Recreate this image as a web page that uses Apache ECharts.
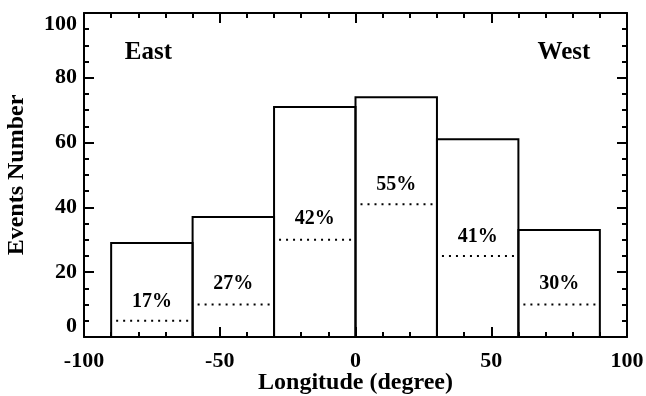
<!DOCTYPE html>
<html>
<head>
<meta charset="utf-8">
<script src="https://cdn.jsdelivr.net/npm/echarts@6/dist/echarts.min.js"></script>
<style>
  html, body { margin: 0; padding: 0; background: #fff; }
  #chart { width: 646px; height: 396px; }
</style>
</head>
<body>
<div id="chart"></div>
<script>
// histogram bins (longitude, degree)
const binStart = [-90, -60, -30, 0, 30, 60];
const binEnd = [-60, -30, 0, 30, 60, 90];
const counts = [29, 37, 71, 74, 61, 33];
// dotted level inside each bin
const subCounts = [5, 10, 30, 41, 25, 10];
const percentLabels = ['17%', '27%', '42%', '55%', '41%', '30%'];
const labelLevels = [11, 16.5, 36.5, 47, 31, 16.5];
const xTicks = [-100, -50, 0, 50, 100];
const yTicks = [0, 20, 40, 60, 80, 100];

const font = 'Liberation Serif';
const chart = echarts.init(document.getElementById('chart'));

const binData = binStart.map((s, i) => [s, binEnd[i], counts[i], subCounts[i], percentLabels[i], labelLevels[i]]);

const axisLine = { show: true, onZero: false, lineStyle: { color: '#000', width: 2 } };
const axisTick = { show: true, inside: true, length: 10, lineStyle: { color: '#000', width: 2 } };
const minor = n => ({ show: true, splitNumber: n, length: 5, lineStyle: { color: '#000', width: 2 } });

chart.setOption({
  animation: false,
  grid: { left: 84, right: 19, top: 13, bottom: 59, containLabel: false, outerBoundsMode: 'none' },
  xAxis: [
    {
      type: 'value', min: -100, max: 100, interval: 50, position: 'bottom',
      axisLine: axisLine, axisTick: axisTick, minorTick: minor(5), splitLine: { show: false },
      axisLabel: { color: '#000', fontFamily: font, fontWeight: 'bold', fontSize: 22, margin: 13,
        formatter: v => xTicks.includes(v) ? String(v) : '' },
      name: 'Longitude (degree)', nameLocation: 'middle', nameGap: 34, nameMoveOverlap: false,
      nameTextStyle: { color: '#000', fontFamily: font, fontWeight: 'bold', fontSize: 24 }
    },
    {
      type: 'value', min: -100, max: 100, interval: 50, position: 'top',
      axisLine: axisLine, axisTick: axisTick, minorTick: minor(5), splitLine: { show: false },
      axisLabel: { show: false }
    }
  ],
  yAxis: [
    {
      type: 'value', min: 0, max: 100, interval: 20, position: 'left',
      axisLine: axisLine, axisTick: axisTick, minorTick: minor(4), splitLine: { show: false },
      axisLabel: { color: '#000', fontFamily: font, fontWeight: 'bold', fontSize: 22, margin: 7,
        formatter: v => yTicks.includes(v) ? String(v) : '',
        verticalAlignMinLabel: 'bottom', verticalAlignMaxLabel: 'top' },
      name: 'Events Number', nameLocation: 'middle', nameGap: 55, nameMoveOverlap: false,
      nameTextStyle: { color: '#000', fontFamily: font, fontWeight: 'bold', fontSize: 24 }
    },
    {
      type: 'value', min: 0, max: 100, interval: 20, position: 'right',
      axisLine: axisLine, axisTick: axisTick, minorTick: minor(4), splitLine: { show: false },
      axisLabel: { show: false }
    }
  ],
  series: [
    {
      type: 'custom',
      data: binData,
      renderItem: function (params, api) {
        const x0 = api.value(0), x1 = api.value(1);
        const tl = api.coord([x0, api.value(2)]);
        const br = api.coord([x1, 0]);
        const dl = api.coord([x0, api.value(3)]);
        const dr = api.coord([x1, api.value(3)]);
        const lp = api.coord([(x0 + x1) / 2, api.value(5)]);
        return {
          type: 'group',
          children: [
            {
              type: 'rect',
              shape: { x: tl[0], y: tl[1], width: br[0] - tl[0], height: br[1] - tl[1] },
              style: { fill: 'none', stroke: '#000', lineWidth: 2 }
            },
            {
              type: 'line',
              shape: { x1: dl[0] + 5, y1: dl[1], x2: dr[0] - 3, y2: dr[1] },
              style: { stroke: '#000', lineWidth: 2, lineDash: [2, 5] }
            },
            {
              type: 'text',
              x: lp[0], y: lp[1],
              style: { text: api.value(4), fill: '#000', font: 'bold 20px "Liberation Serif"', align: 'center', verticalAlign: 'middle' }
            }
          ]
        };
      }
    },
    {
      type: 'custom',
      data: [[-85, 87.7, 'East', 'left'], [86.5, 87.7, 'West', 'right']],
      renderItem: function (params, api) {
        const p = api.coord([api.value(0), api.value(1)]);
        return {
          type: 'text', x: p[0], y: p[1],
          style: { text: api.value(2), fill: '#000', font: 'bold 25px "Liberation Serif"', align: api.value(3), verticalAlign: 'middle' }
        };
      }
    }
  ]
});
</script>
</body>
</html>
